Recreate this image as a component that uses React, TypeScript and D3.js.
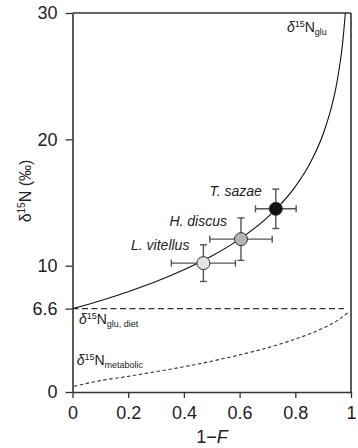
import { useEffect, useRef } from "react";
import * as d3 from "d3";

// glutamate curve (1-F vs d15N)
const gluX = [0, 0.1, 0.2, 0.3, 0.4, 0.5, 0.6, 0.7, 0.8, 0.85, 0.9, 0.93, 0.95, 0.97, 0.98];
const gluY = [6.6, 7.23, 7.94, 8.74, 9.67, 10.76, 12.1, 13.82, 16.26, 17.98, 20.42, 22.56, 24.57, 27.64, 30.07];

// metabolic (dashed) curve
const metX = [0.005, 0.1, 0.2, 0.3, 0.4, 0.5, 0.6, 0.7, 0.8, 0.9, 0.95, 0.99];
const metY = [0.45, 0.9, 1.24, 1.61, 2.0, 2.44, 2.94, 3.5, 4.19, 5.06, 5.65, 6.3];

const dietLevel = 6.6;
const dietEnd = 0.975;

const species = ["L. vitellus", "H. discus", "T. sazae"];
const speciesX = [0.47, 0.605, 0.73];
const speciesY = [10.2, 12.1, 14.5];
const speciesXErr = [0.115, 0.112, 0.073];
const speciesYErr = [1.45, 1.68, 1.56];
const speciesFill = ["#e2e2e2", "#b4b4b4", "#111111"];

const xTicks = [0, 0.2, 0.4, 0.6, 0.8, 1];
const yTicks = [0, 6.6, 10, 20, 30];

const FONT = "'Liberation Sans', Arial, sans-serif";

const App = () => {
  const svgRef = useRef(null);

  useEffect(() => {
    document.body.style.margin = "0";
    const W = 358, H = 448;
    const M = { left: 72.5, right: 351, top: 13, bottom: 392 };

    const x = d3.scaleLinear().domain([0, 1]).range([M.left, M.right]);
    const y = d3.scaleLinear().domain([0, 30]).range([M.bottom, M.top]);

    const svg = d3.select(svgRef.current).attr("width", W).attr("height", H);
    svg.selectAll("*").remove();

    svg.append("defs").append("clipPath").attr("id", "plotclip")
      .append("rect").attr("x", M.left).attr("y", M.top)
      .attr("width", M.right - M.left).attr("height", M.bottom - M.top);

    const line = d3.line<number>()
      .x((d, i) => x(d))
      .curve(d3.curveMonotoneX);

    const plot = svg.append("g").attr("clip-path", "url(#plotclip)");

    // diet line
    plot.append("line")
      .attr("x1", x(0)).attr("x2", x(dietEnd))
      .attr("y1", y(dietLevel)).attr("y2", y(dietLevel))
      .attr("stroke", "#333").attr("stroke-width", 1.1)
      .attr("stroke-dasharray", "6,3.5");

    // metabolic curve
    plot.append("path")
      .attr("d", line.y((d, i) => y(metY[i]))(metX))
      .attr("fill", "none").attr("stroke", "#333").attr("stroke-width", 1.1)
      .attr("stroke-dasharray", "3.5,2.5");

    // glu curve
    plot.append("path")
      .attr("d", line.y((d, i) => y(gluY[i]))(gluX))
      .attr("fill", "none").attr("stroke", "#111").attr("stroke-width", 1.1);

    // axes
    const xAxis = svg.append("g")
      .attr("transform", `translate(0,${M.bottom})`)
      .call(d3.axisBottom(x).tickValues(xTicks).tickFormat((d) => String(d)).tickSize(6).tickPadding(8).tickSizeOuter(0));
    const yAxis = svg.append("g")
      .attr("transform", `translate(${M.left},0)`)
      .call(d3.axisLeft(y).tickValues(yTicks).tickFormat((d) => String(d)).tickSize(7).tickPadding(8).tickSizeOuter(0));

    [xAxis, yAxis].forEach((a) => {
      a.select(".domain").attr("stroke", "#333").attr("stroke-width", 1.6);
      a.selectAll(".tick line").attr("stroke", "#333").attr("stroke-width", 1.3);
      a.selectAll(".tick text").attr("fill", "#222").style("font-size", "18px").style("font-family", FONT);
    });

    // box
    svg.append("line").attr("x1", M.left).attr("x2", M.right).attr("y1", M.top).attr("y2", M.top)
      .attr("stroke", "#333").attr("stroke-width", 1.6);
    svg.append("line").attr("x1", M.right).attr("x2", M.right).attr("y1", M.top).attr("y2", M.bottom)
      .attr("stroke", "#333").attr("stroke-width", 1.6);

    // error bars + points
    const cap = 3.5;
    species.forEach((name, i) => {
      const px = x(speciesX[i]), py = y(speciesY[i]);
      const x0 = x(speciesX[i] - speciesXErr[i]), x1 = x(speciesX[i] + speciesXErr[i]);
      const y0 = y(speciesY[i] - speciesYErr[i]), y1 = y(speciesY[i] + speciesYErr[i]);
      const g = svg.append("g").attr("stroke", "#555").attr("stroke-width", 1.4);
      g.append("line").attr("x1", x0).attr("x2", x1).attr("y1", py).attr("y2", py);
      g.append("line").attr("x1", x0).attr("x2", x0).attr("y1", py - cap).attr("y2", py + cap);
      g.append("line").attr("x1", x1).attr("x2", x1).attr("y1", py - cap).attr("y2", py + cap);
      g.append("line").attr("x1", px).attr("x2", px).attr("y1", y0).attr("y2", y1);
      g.append("line").attr("x1", px - cap).attr("x2", px + cap).attr("y1", y0).attr("y2", y0);
      g.append("line").attr("x1", px - cap).attr("x2", px + cap).attr("y1", y1).attr("y2", y1);

      svg.append("circle").attr("cx", px).attr("cy", py).attr("r", 6.5)
        .attr("fill", speciesFill[i]).attr("stroke", "#333").attr("stroke-width", 1);

      svg.append("text").attr("x", px - 14).attr("y", py - 13)
        .attr("text-anchor", "end").style("font-family", FONT).style("font-size", "14px")
        .style("font-style", "italic").attr("fill", "#222").text(name);
    });

    // curve labels
    const isoLabel = (ux: number, vy: number, sub: string) => {
      const t = svg.append("text").attr("x", x(ux)).attr("y", y(vy))
        .style("font-family", FONT).attr("fill", "#222");
      t.append("tspan").style("font-size", "14px").style("font-style", "italic").text("δ");
      t.append("tspan").style("font-size", "9px").attr("dy", -5).text("15");
      t.append("tspan").style("font-size", "14px").attr("dy", 5).text("N");
      t.append("tspan").style("font-size", "9px").attr("dy", 3).text(sub);
    };
    isoLabel(0.77, 28.5, "glu");
    isoLabel(0.023, 5.36, "glu, diet");
    isoLabel(0.015, 2.14, "metabolic");

    // axis titles
    const yt = svg.append("text")
      .attr("transform", `translate(31,191) rotate(-90)`)
      .attr("text-anchor", "middle").style("font-family", FONT).attr("fill", "#222");
    yt.append("tspan").style("font-size", "16px").text("δ");
    yt.append("tspan").style("font-size", "10px").attr("dy", -6).text("15");
    yt.append("tspan").style("font-size", "16px").attr("dy", 6).text("N (‰)");

    const xt = svg.append("text").attr("x", 212).attr("y", 443)
      .attr("text-anchor", "middle").style("font-family", FONT).style("font-size", "18px").attr("fill", "#222");
    xt.append("tspan").text("1−");
    xt.append("tspan").style("font-style", "italic").text("F");
  }, []);

  return <svg ref={svgRef} style={{ display: "block" }} />;
};

export default App;
